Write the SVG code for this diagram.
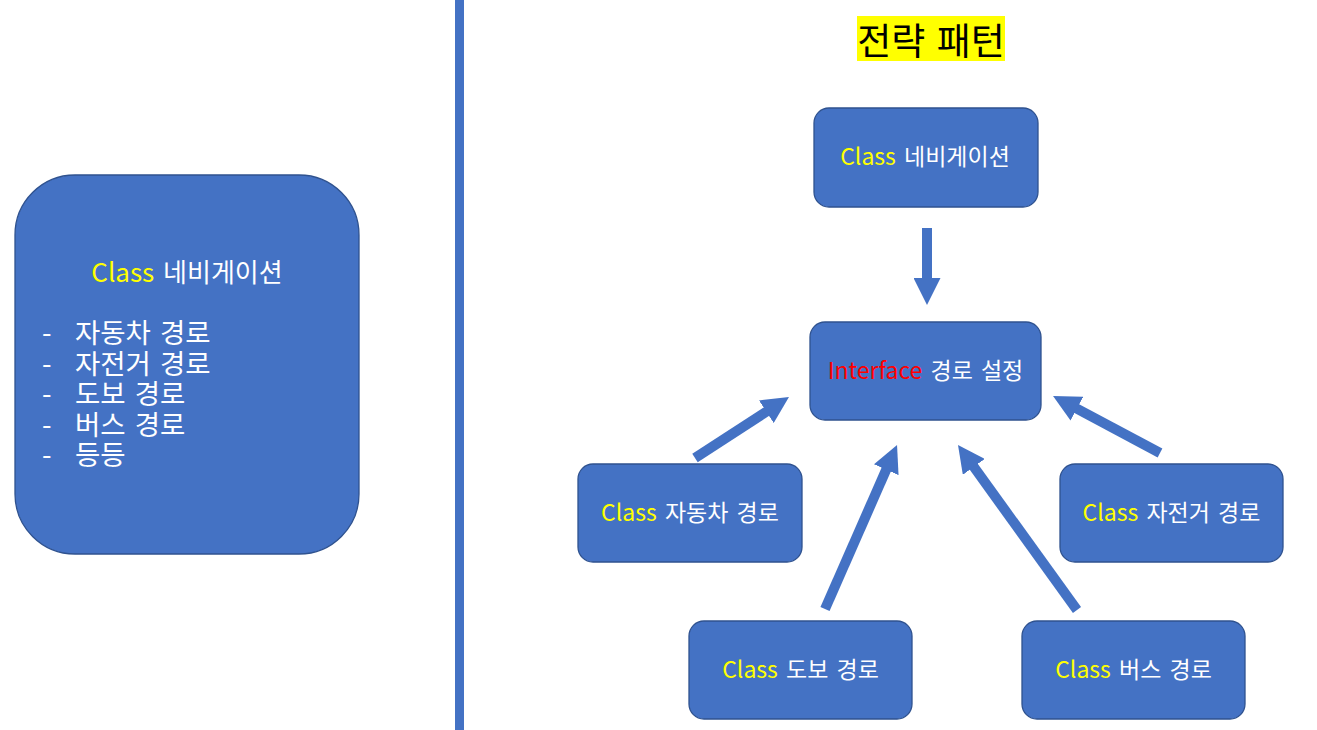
<svg xmlns="http://www.w3.org/2000/svg" width="1317" height="730" viewBox="0 0 1317 730">
<style>
  .box { fill: #4472C4; stroke: #2F528F; stroke-width: 1.3; }
  .t { font-family: "Noto Sans CJK KR", "Noto Sans", sans-serif; fill: #FFFFFF; word-spacing: 3px; }
  .y { fill: #FFFF00; }
  .r { fill: #FF0000; }
  .conn { stroke: #4472C4; stroke-width: 10; fill: none; marker-end: url(#ah); }
</style>
<defs>
  <marker id="ah" markerUnits="userSpaceOnUse" markerWidth="27" markerHeight="27" refX="7" refY="13.5" orient="auto" viewBox="0 0 27 27">
    <path d="M0,0 L27,13.5 L0,27 Z" fill="#4472C4"/>
  </marker>
</defs>
<rect width="1317" height="730" fill="#FFFFFF"/>

<g id="divider">
  <rect x="455" y="0" width="9" height="730" fill="#4472C4"/>
</g>

<g id="summary">
  <rect class="box" x="15" y="175" width="344" height="379" rx="60" ry="60"/>
  <text class="t" x="187" y="282" font-size="26" text-anchor="middle"><tspan class="y">Class</tspan> 네비게이션</text>
  <g class="t" font-size="27.5">
    <text x="42" y="343">-<tspan x="75">자동차 경로</tspan></text>
    <text x="42" y="373.5">-<tspan x="75">자전거 경로</tspan></text>
    <text x="42" y="404">-<tspan x="75">도보 경로</tspan></text>
    <text x="42" y="434.5">-<tspan x="75">버스 경로</tspan></text>
    <text x="42" y="465">-<tspan x="75">등등</tspan></text>
  </g>
</g>

<g id="title">
  <rect x="857" y="16" width="148" height="45" fill="#FFFF00"/>
  <text x="931" y="55" font-size="37" text-anchor="middle" font-family="Noto Sans CJK KR, Noto Sans, sans-serif" fill="#000000" word-spacing="3">전략 패턴</text>
</g>

<g id="connectors">
  <line class="conn" x1="927" y1="228" x2="927" y2="285"/>
  <line class="conn" x1="695" y1="458" x2="772.2" y2="407.9"/>
  <line class="conn" x1="825" y1="609" x2="889" y2="463.3"/>
  <line class="conn" x1="1077" y1="610" x2="969.7" y2="461.2"/>
  <line class="conn" x1="1160" y1="453" x2="1070.7" y2="405.4"/>
</g>

<g id="nav">
  <rect class="box" x="814" y="108" width="224" height="99" rx="15" ry="15"/>
  <text class="t" x="925" y="165" font-size="23" text-anchor="middle"><tspan class="y">Class</tspan> 네비게이션</text>
</g>

<g id="interface">
  <rect class="box" x="810" y="322" width="231" height="98" rx="15" ry="15"/>
  <text class="t" x="925.5" y="379" font-size="23" text-anchor="middle"><tspan class="r">Interface</tspan> 경로 설정</text>
</g>

<g id="car">
  <rect class="box" x="578" y="464" width="224" height="98" rx="15" ry="15"/>
  <text class="t" x="690" y="521" font-size="23" text-anchor="middle"><tspan class="y">Class</tspan> 자동차 경로</text>
</g>

<g id="bike">
  <rect class="box" x="1060" y="464" width="223" height="98" rx="15" ry="15"/>
  <text class="t" x="1171.5" y="521" font-size="23" text-anchor="middle"><tspan class="y">Class</tspan> 자전거 경로</text>
</g>

<g id="walk">
  <rect class="box" x="689" y="621" width="223" height="98" rx="15" ry="15"/>
  <text class="t" x="800.5" y="678" font-size="23" text-anchor="middle"><tspan class="y">Class</tspan> 도보 경로</text>
</g>

<g id="bus">
  <rect class="box" x="1022" y="621" width="223" height="98" rx="15" ry="15"/>
  <text class="t" x="1133.5" y="678" font-size="23" text-anchor="middle"><tspan class="y">Class</tspan> 버스 경로</text>
</g>
</svg>
